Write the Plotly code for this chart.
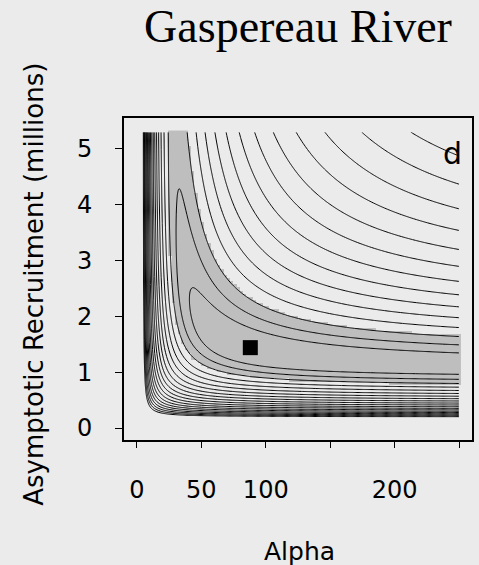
import numpy as np
import plotly.graph_objects as go

# stock-recruitment observations (millions)
spawners = [0.0202, 0.0240, 0.0284, 0.0336, 0.0399, 0.0472, 0.0560, 0.0663, 0.0786, 0.0931]
recruits = [0.91, 0.77, 0.95, 0.84, 1.13, 1.03, 1.26, 1.03, 1.22, 1.12]
# maximum likelihood estimate (square)
mle_alpha = [88]
mle_R = [1.44]
# axes
x_tickvals = [0, 50, 100, 150, 200, 250]
x_ticktext = ["0", "50", "100", "", "200", ""]
y_tickvals = [0, 1, 2, 3, 4, 5]
alpha_grid = np.linspace(0.5, 250, 300)
K_grid = np.linspace(0.02, 5.3, 300)

S = np.array(spawners)
Robs = np.array(recruits)


def surface(a_vals, k_vals):
    A, KK = np.meshgrid(a_vals, k_vals)
    pred = A[..., None] * S / (1 + A[..., None] * S / KK[..., None])
    return np.sqrt(np.sum((np.log(Robs) - np.log(pred)) ** 2, axis=-1))


z = surface(alpha_grid, K_grid)
zc = float(z[:, -1].min())
d = 0.24
L1 = zc + 0.96 * d

# coarse grid for the shaded confidence region
a_coarse = np.linspace(0.5, 250, 100)
k_coarse = np.linspace(0.02, 5.3, 95)
zg = surface(a_coarse, k_coarse)
gray = np.where(zg < L1 + 2.1 * d, 1.0, np.nan)

fig = go.Figure()
fig.add_trace(go.Heatmap(x=a_coarse, y=k_coarse, z=gray, colorscale=[[0, "#bebebe"], [1, "#bebebe"]],
                         showscale=False, hoverinfo="skip"))
fig.add_trace(go.Contour(x=alpha_grid, y=K_grid, z=z, showscale=False,
                         contours=dict(coloring="none", start=L1, end=L1 + 19 * d, size=d),
                         line=dict(color="black", width=1), hoverinfo="skip"))
fig.add_trace(go.Scatter(x=mle_alpha, y=mle_R, mode="markers",
                         marker=dict(symbol="square", size=15, color="black", line=dict(width=0))))

font = "DejaVu Sans"
fig.update_layout(
    width=479, height=565, showlegend=False,
    paper_bgcolor="#ebebeb", plot_bgcolor="#ebebeb",
    margin=dict(l=124, r=5, t=118, b=125),
    title=dict(text="Gaspereau River", font=dict(family="Liberation Serif", size=46, color="black"),
               x=0.5, xref="paper", xanchor="center", y=0.983, yref="container", yanchor="top"),
    xaxis=dict(range=[-10, 260], tickvals=x_tickvals, ticktext=x_ticktext, showgrid=False, zeroline=False,
               showline=True, mirror=True, linecolor="black", linewidth=2, ticks="outside", ticklen=6,
               tickcolor="black", tickfont=dict(family=font, size=24, color="black"), ticklabelstandoff=21),
    yaxis=dict(range=[-0.214, 5.553], tickvals=y_tickvals, showgrid=False, zeroline=False,
               showline=True, mirror=True, linecolor="black", linewidth=2, ticks="outside", ticklen=7,
               tickcolor="black", tickfont=dict(family=font, size=24, color="black"), ticklabelstandoff=18),
    annotations=[
        dict(text="Alpha", xref="paper", yref="paper", x=0.503, y=-0.345, xanchor="center", yanchor="middle",
             showarrow=False, font=dict(family=font, size=25, color="black")),
        dict(text="Asymptotic Recruitment (millions)", xref="paper", yref="paper", x=-0.257, y=0.484,
             xanchor="center", yanchor="middle", textangle=-90, showarrow=False,
             font=dict(family=font, size=26, color="black")),
        dict(text="d", xref="paper", yref="paper", x=0.943, y=0.891, xanchor="center", yanchor="middle",
             showarrow=False, font=dict(family=font, size=30, color="black")),
    ],
)
fig.write_html("out.html")
